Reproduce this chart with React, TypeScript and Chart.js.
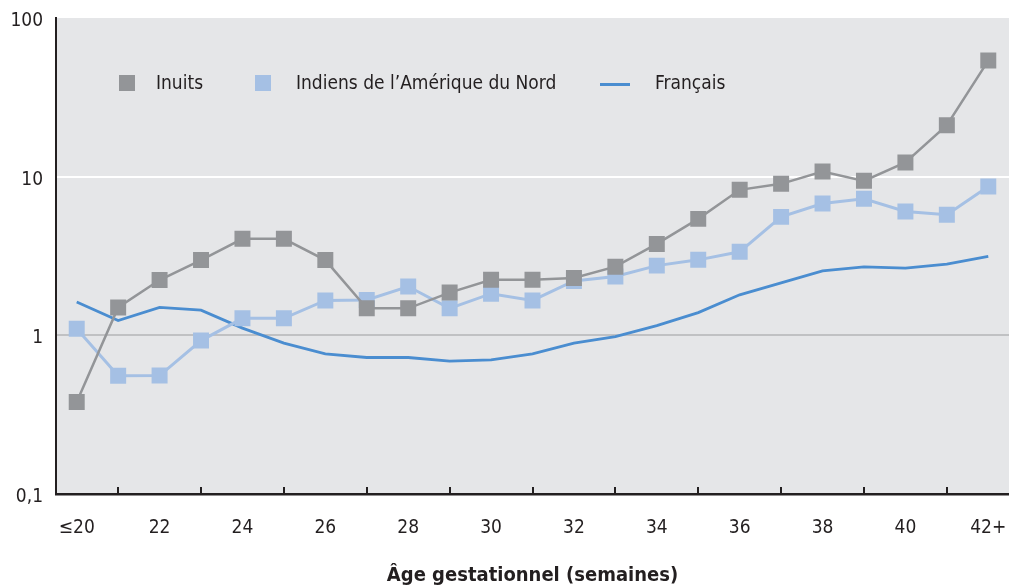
import React, { useEffect, useRef } from "react";
import { Chart, registerables } from "chart.js";

Chart.register(...registerables);

const categories = ["≤20", "21", "22", "23", "24", "25", "26", "27", "28", "29", "30", "31", "32", "33", "34", "35", "36", "37", "38", "39", "40", "41", "42+"];
const inuits = [0.38, 1.5, 2.23, 2.98, 4.06, 4.06, 2.98, 1.48, 1.48, 1.86, 2.24, 2.24, 2.3, 2.71, 3.77, 5.42, 8.26, 9.01, 10.77, 9.41, 12.3, 21.1, 53.9];
const indiens = [1.1, 0.556, 0.558, 0.927, 1.28, 1.28, 1.66, 1.67, 2.03, 1.48, 1.83, 1.66, 2.2, 2.35, 2.75, 2.99, 3.36, 5.58, 6.77, 7.25, 6.03, 5.75, 8.66];
const francais = [1.62, 1.24, 1.5, 1.44, 1.11, 0.893, 0.765, 0.725, 0.725, 0.688, 0.7, 0.765, 0.893, 0.98, 1.15, 1.39, 1.8, 2.14, 2.55, 2.7, 2.65, 2.81, 3.14];
const yTickValues = [0.1, 1, 10, 100];
const yTickLabels = ["0,1", "1", "10", "100"];
const seriesNames = ["Inuits", "Indiens de l’Amérique du Nord", "Français"];
const xTitle = "Âge gestationnel (semaines)";

const FONT = "'Liberation Sans Narrow', 'Arial Narrow', 'DejaVu Sans Condensed', sans-serif";
const TEXT = "#231f20";
const GRAY = "#939598";
const LIGHTBLUE = "#a5c0e4";
const BLUE = "#4a8dd0";
const BG = "#e5e6e8";

const bgPlugin = {
  id: "bg",
  beforeDraw(chart: any) {
    const { ctx, chartArea: a } = chart;
    ctx.save();
    ctx.fillStyle = BG;
    ctx.fillRect(a.left, a.top, a.right - a.left, a.bottom - a.top);
    ctx.restore();
  },
};

const innerTicksPlugin = {
  id: "innerTicks",
  afterDraw(chart: any) {
    const { ctx, chartArea: a } = chart;
    const xs = chart.scales.x;
    ctx.save();
    ctx.strokeStyle = TEXT;
    ctx.lineWidth = 2;
    for (let i = 1; i < categories.length; i += 2) {
      const x = Math.round(xs.getPixelForTick(i));
      ctx.beginPath();
      ctx.moveTo(x, a.bottom);
      ctx.lineTo(x, a.bottom - 7);
      ctx.stroke();
    }
    ctx.restore();
  },
};

const legendPlugin = {
  id: "customLegend",
  afterDraw(chart: any) {
    const { ctx, chartArea: a } = chart;
    const y = a.top + 65;
    ctx.save();
    ctx.font = `19px ${FONT}`;
    ctx.textBaseline = "middle";
    ctx.textAlign = "left";
    ctx.fillStyle = GRAY;
    ctx.fillRect(a.left + 63, y - 8, 16, 16);
    ctx.fillStyle = TEXT;
    ctx.fillText(seriesNames[0], a.left + 100, y + 1);
    ctx.fillStyle = LIGHTBLUE;
    ctx.fillRect(a.left + 199, y - 8, 16, 16);
    ctx.fillStyle = TEXT;
    ctx.fillText(seriesNames[1], a.left + 240, y + 1);
    ctx.strokeStyle = BLUE;
    ctx.lineWidth = 3;
    ctx.beginPath();
    ctx.moveTo(a.left + 544, y + 1.5);
    ctx.lineTo(a.left + 574, y + 1.5);
    ctx.stroke();
    ctx.fillStyle = TEXT;
    ctx.fillText(seriesNames[2], a.left + 599, y + 1);
    ctx.restore();
  },
};

export default function App() {
  const ref = useRef<HTMLCanvasElement | null>(null);
  useEffect(() => {
    if (!ref.current) return;
    const chart = new Chart(ref.current, {
      type: "line",
      data: {
        labels: categories,
        datasets: [
          {
            label: seriesNames[0],
            data: inuits,
            borderColor: GRAY,
            backgroundColor: GRAY,
            borderWidth: 2.5,
            pointStyle: "rect",
            pointRadius: 11.3,
            pointBorderWidth: 0,
            pointBackgroundColor: GRAY,
            tension: 0,
          },
          {
            label: seriesNames[1],
            data: indiens,
            borderColor: LIGHTBLUE,
            backgroundColor: LIGHTBLUE,
            borderWidth: 3,
            pointStyle: "rect",
            pointRadius: 11.3,
            pointBorderWidth: 0,
            pointBackgroundColor: LIGHTBLUE,
            tension: 0,
          },
          {
            label: seriesNames[2],
            data: francais,
            borderColor: BLUE,
            backgroundColor: BLUE,
            borderWidth: 2.8,
            pointRadius: 0,
            tension: 0,
          },
        ],
      },
      options: {
        responsive: false,
        animation: false,
        events: [],
        layout: { autoPadding: false, padding: { top: 18, right: 0, left: 0, bottom: 0 } },
        plugins: {
          legend: { display: false },
          tooltip: { enabled: false },
        },
        scales: {
          x: {
            type: "category",
            offset: true,
            afterFit: (s: any) => {
              s.height = 92;
              s.paddingLeft = 0;
              s.paddingRight = 0;
            },
            grid: {
              display: true,
              drawOnChartArea: false,
              drawTicks: true,
              tickLength: 23,
              tickColor: "rgba(0,0,0,0)",
              color: "rgba(0,0,0,0)",
            },
            border: { display: true, color: TEXT, width: 2.5 },
            ticks: {
              autoSkip: false,
              maxRotation: 0,
              padding: 0,
              color: TEXT,
              font: { family: FONT, size: 19 },
              callback: (_v: any, i: number) => (i % 2 === 0 ? categories[i] : ""),
            },
            title: {
              display: true,
              text: xTitle,
              color: TEXT,
              font: { family: FONT, size: 20, weight: "bold", lineHeight: 1 },
              padding: { top: 0, bottom: 0 },
            },
          },
          y: {
            type: "logarithmic",
            min: 0.1,
            max: 100,
            afterFit: (s: any) => {
              s.width = 56;
            },
            afterBuildTicks: (s: any) => {
              s.ticks = yTickValues.map((v) => ({ value: v, major: true }));
            },
            grid: {
              drawTicks: true,
              tickLength: 13,
              tickColor: "rgba(0,0,0,0)",
              lineWidth: 2,
              color: (c: any) => {
                const v = c.tick ? c.tick.value : null;
                if (v === 1) return "#c0c1c3";
                if (v === 10) return "#ffffff";
                return "rgba(0,0,0,0)";
              },
            },
            border: { display: true, color: TEXT, width: 2 },
            ticks: {
              padding: 0,
              labelOffset: 3,
              color: TEXT,
              font: { family: FONT, size: 19 },
              callback: (v: any) => {
                const i = yTickValues.indexOf(Number(v));
                return i >= 0 ? yTickLabels[i] : "";
              },
            },
          },
        },
      },
      plugins: [bgPlugin, innerTicksPlugin, legendPlugin],
    } as any);
    return () => chart.destroy();
  }, []);
  return (
    <div style={{ position: "fixed", left: 0, top: 0, width: 1009, height: 586, background: "#fff" }}>
      <canvas ref={ref} width={1009} height={586} style={{ display: "block" }} />
    </div>
  );
}
